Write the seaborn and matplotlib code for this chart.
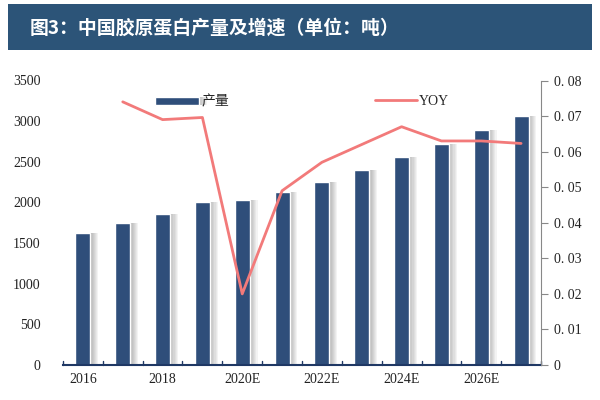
import numpy as np
import pandas as pd
import matplotlib
matplotlib.use("Agg")
import matplotlib.pyplot as plt
import matplotlib.patheffects as pe
from matplotlib.patches import Rectangle
from matplotlib.ticker import FuncFormatter
import seaborn as sns

# === DATA ===
years = ["2016", "2017", "2018", "2019", "2020E", "2021E", "2022E",
         "2023E", "2024E", "2025E", "2026E", "2027E"]
output = [1630, 1750, 1860, 2000, 2035, 2130, 2255, 2400, 2555, 2720, 2885, 3065]
yoy = [np.nan, 0.074, 0.069, 0.0696, 0.020, 0.049, 0.057, 0.062, 0.067,
       0.063, 0.063, 0.0623]
tick_labels = ["2016", "", "2018", "", "2020E", "", "2022E", "", "2024E", "", "2026E", ""]

title = "图3：中国胶原蛋白产量及增速（单位：吨）"

BAR = "#2F4E7A"
LINE = "#F27A7A"
BANNER = "#2C5478"
AXIS = "#1F3864"

df = pd.DataFrame({"year": years, "output": output, "yoy": yoy})

sns.set_theme(style="white")
plt.rcParams["font.family"] = ["Liberation Serif", "Noto Sans CJK SC"]

fig = plt.figure(figsize=(6, 4), dpi=100)

# title banner
fig.patches.append(Rectangle((8 / 600, 1 - 50 / 400), 584 / 600, 46 / 400,
                             transform=fig.transFigure, facecolor=BANNER,
                             edgecolor="none", zorder=0))
fig.text(30 / 600, 1 - 28 / 400, title, color="white", fontsize=13.6,
         fontweight="bold", va="center", ha="left",
         family=["Noto Sans CJK SC", "DejaVu Sans"])

ax = fig.add_axes([63 / 600, 35 / 400, (541 - 63) / 600, (365 - 80.5) / 400])

sns.barplot(data=df, x="year", y="output", color=BAR, width=0.38,
            saturation=1, ax=ax, label="产量")
# soft grey shadow on the right side of each bar
shadow = [pe.SimplePatchShadow(offset=(k * 0.8, 0), shadow_rgbFace="#7a7a7a", alpha=0.09)
          for k in range(1, 8)]
for p in ax.patches:
    p.set_path_effects(shadow + [pe.Normal()])

ax2 = ax.twinx()
sns.lineplot(data=df, x="year", y="yoy", color=LINE, linewidth=2, ax=ax2,
             label="YOY", sort=False)

ax.set_ylim(0, 3500)
ax.set_yticks(range(0, 3501, 500))
ax2.set_ylim(0, 0.08)
ax2.set_yticks(np.arange(0, 0.081, 0.01))
ax2.yaxis.set_major_formatter(
    FuncFormatter(lambda v, _: "0" if v == 0 else f"0. {int(round(v * 100)):02d}"))
ax.set_xlim(-0.5, len(years) - 0.5)

for a in (ax, ax2):
    a.set_xlabel("")
    a.set_ylabel("")

ax.set_xticks(range(len(years)))
ax.set_xticklabels(tick_labels)
ax.tick_params(axis="x", length=0, pad=6, labelsize=10, colors="#222222")
ax.tick_params(axis="y", length=0, pad=16, labelsize=10, colors="#222222")
ax2.tick_params(axis="y", length=5, width=0.8, direction="out", pad=4,
                labelsize=10, labelcolor="#222222", color="#888888")

# boundary ticks on the x axis, pointing up
for b in np.arange(-0.5, len(years), 1.0):
    ax.plot([b, b], [0, 45], color=AXIS, lw=1.0, clip_on=False, zorder=5)

for s in ["top", "left", "right"]:
    ax.spines[s].set_visible(False)
    ax2.spines[s].set_visible(False)
ax.spines["bottom"].set_color(AXIS)
ax.spines["bottom"].set_linewidth(1.5)
ax2.spines["bottom"].set_visible(False)
ax2.spines["right"].set_visible(True)
ax2.spines["right"].set_color("#888888")
ax2.spines["right"].set_linewidth(0.8)

# legends
h1, l1 = ax.get_legend_handles_labels()
h2, l2 = ax2.get_legend_handles_labels()
ax.legend(h1, l1, loc="center", bbox_to_anchor=(0.27, 0.925), frameon=False,
          handlelength=3.2, handleheight=0.5, fontsize=10, handletextpad=0.2)
ax2.legend(h2, l2, loc="center", bbox_to_anchor=(0.73, 0.925), frameon=False,
           handlelength=3.0, fontsize=10, handletextpad=0.1)

fig.savefig("out.png", dpi=100)
